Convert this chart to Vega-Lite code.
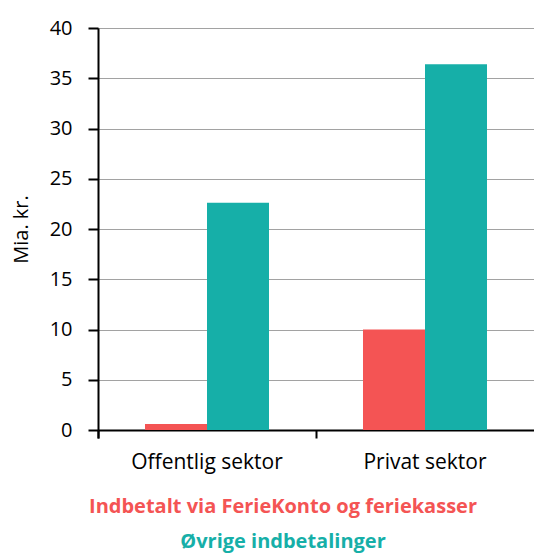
{
  "$schema": "https://vega.github.io/schema/vega-lite/v6.json",
  "autosize": "none",
  "width": 436,
  "height": 402,
  "padding": {"left": 98, "top": 28, "right": 0, "bottom": 124},
  "config": {
    "font": "Open Sans",
    "view": {"stroke": null}
  },
  "data": {
    "values": [
      {"sektor": "Offentlig sektor", "type": "Indbetalt via FerieKonto og feriekasser", "value": 0.6},
      {"sektor": "Offentlig sektor", "type": "Øvrige indbetalinger", "value": 22.6},
      {"sektor": "Privat sektor", "type": "Indbetalt via FerieKonto og feriekasser", "value": 10.0},
      {"sektor": "Privat sektor", "type": "Øvrige indbetalinger", "value": 36.4}
    ]
  },
  "mark": {"type": "bar"},
  "encoding": {
    "x": {
      "field": "sektor", "type": "nominal",
      "scale": {"paddingInner": 0, "paddingOuter": 0},
      "axis": {
        "title": null, "labelAngle": 0, "labelFontSize": 21, "labelColor": "#000",
        "labelPadding": 13, "domainColor": "#000", "domainWidth": 2,
        "tickColor": "#000", "tickWidth": 2, "tickSize": 8, "bandPosition": 0, "tickExtra": true
      }
    },
    "xOffset": {
      "field": "type", "type": "nominal",
      "scale": {"paddingInner": 0, "paddingOuter": 0.758}
    },
    "y": {
      "field": "value", "type": "quantitative",
      "scale": {"domain": [0, 40]},
      "axis": {
        "title": "Mia. kr.", "titleFontSize": 20, "titleFontWeight": "normal", "titleColor": "#000", "titlePadding": 18,
        "values": [0, 5, 10, 15, 20, 25, 30, 35, 40],
        "labelFontSize": 20, "labelColor": "#000", "labelPadding": 16,
        "domainColor": "#000", "domainWidth": 2,
        "tickColor": "#000", "tickWidth": 2, "tickSize": 10,
        "grid": true, "gridColor": "#444", "gridDash": [1, 1], "gridWidth": 1
      }
    },
    "color": {
      "field": "type", "type": "nominal",
      "scale": {"domain": ["Indbetalt via FerieKonto og feriekasser", "Øvrige indbetalinger"], "range": ["#F45454", "#16AFA8"]},
      "legend": {
        "title": null, "orient": "none", "legendX": 165, "legendY": 469,
        "direction": "vertical", "symbolSize": 0, "symbolStrokeWidth": 0, "symbolOpacity": 0,
        "labelOffset": 0, "labelAlign": "center", "labelFontSize": 20, "labelFontWeight": "bold",
        "labelLimit": 1000, "rowPadding": 15,
        "encode": {"labels": {"update": {"fill": {"scale": "color", "field": "value"}}}}
      }
    }
  }
}
